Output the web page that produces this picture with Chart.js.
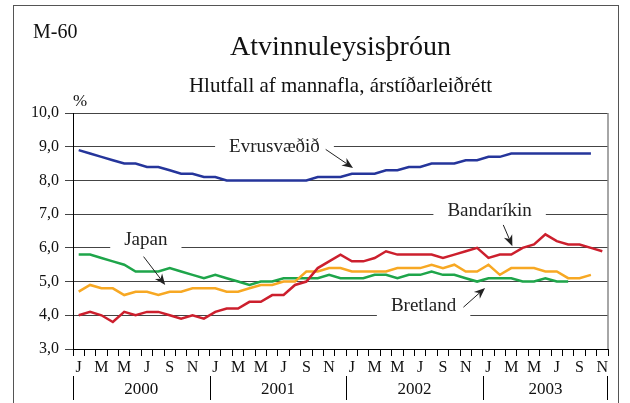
<!DOCTYPE html>
<html>
<head>
<meta charset="utf-8">
<script src="https://cdn.jsdelivr.net/npm/chart.js@4/dist/chart.umd.min.js"></script>
<style>
  html, body { margin: 0; padding: 0; background: #fff; }
  #wrap { width: 630px; height: 403px; }
</style>
</head>
<body>
<div id="wrap"><canvas id="chart" width="630" height="403"></canvas></div>
<script>
const FONT = "'Liberation Serif', 'Times New Roman', serif";

// Jan 2000 .. Nov 2003
const monthLabels = [
  'J','F','M','A','M','J','J','A','S','O','N','D',
  'J','F','M','A','M','J','J','A','S','O','N','D',
  'J','F','M','A','M','J','J','A','S','O','N','D',
  'J','F','M','A','M','J','J','A','S','O','N'
];
const years = ['2000', '2001', '2002', '2003'];

const euroArea = [8.9,8.8,8.7,8.6,8.5,8.5,8.4,8.4,8.3,8.2,8.2,8.1,
                  8.1,8.0,8.0,8.0,8.0,8.0,8.0,8.0,8.0,8.1,8.1,8.1,
                  8.2,8.2,8.2,8.3,8.3,8.4,8.4,8.5,8.5,8.5,8.6,8.6,
                  8.7,8.7,8.8,8.8,8.8,8.8,8.8,8.8,8.8,8.8];
const usa      = [4.0,4.1,4.0,3.8,4.1,4.0,4.1,4.1,4.0,3.9,4.0,3.9,
                  4.1,4.2,4.2,4.4,4.4,4.6,4.6,4.9,5.0,5.4,5.6,5.8,
                  5.6,5.6,5.7,5.9,5.8,5.8,5.8,5.8,5.7,5.8,5.9,6.0,
                  5.7,5.8,5.8,6.0,6.1,6.4,6.2,6.1,6.1,6.0,5.9];
const japan    = [4.7,4.9,4.8,4.8,4.6,4.7,4.7,4.6,4.7,4.7,4.8,4.8,
                  4.8,4.7,4.7,4.8,4.9,4.9,5.0,5.0,5.3,5.3,5.4,5.4,
                  5.3,5.3,5.3,5.3,5.4,5.4,5.4,5.5,5.4,5.5,5.3,5.3,
                  5.5,5.2,5.4,5.4,5.4,5.3,5.3,5.1,5.1,5.2];
const uk       = [5.8,5.8,5.7,5.6,5.5,5.3,5.3,5.3,5.4,5.3,5.2,5.1,
                  5.2,5.1,5.0,4.9,5.0,5.0,5.1,5.1,5.1,5.1,5.2,5.1,
                  5.1,5.1,5.2,5.2,5.1,5.2,5.2,5.3,5.2,5.2,5.1,5.0,
                  5.1,5.1,5.1,5.0,5.0,5.1,5.0,5.0];

// series labels sit on the grid, arrows point at their line (month index, value)
const notes = [
  { text: 'Evrusvæðið', at: [17.2, 9.0],  from: [21.7, 8.92], to: [24.1, 8.37] },
  { text: 'Bandaríkin', at: [36.1, 7.08], from: [37.3, 6.68], to: [38.1, 6.05] },
  { text: 'Japan',      at: [5.9, 6.22],  from: [5.7, 5.74],  to: [7.6, 4.9] },
  { text: 'Bretland',   at: [30.3, 4.27], from: [33.8, 4.24], to: [35.7, 4.81] }
];

function arrow(ctx, x0, y0, x1, y1) {
  const a = Math.atan2(y1 - y0, x1 - x0);
  const len = 11, half = 4.5;
  ctx.beginPath();
  ctx.moveTo(x0, y0);
  ctx.lineTo(x1 - Math.cos(a) * len * 0.7, y1 - Math.sin(a) * len * 0.7);
  ctx.stroke();
  ctx.save();
  ctx.translate(x1, y1);
  ctx.rotate(a);
  ctx.beginPath();
  ctx.moveTo(0, 0);
  ctx.lineTo(-len, -half);
  ctx.lineTo(-len * 0.7, 0);
  ctx.lineTo(-len, half);
  ctx.closePath();
  ctx.fill();
  ctx.restore();
}

const decor = {
  id: 'decor',
  beforeDraw(chart) {
    const ctx = chart.ctx;
    ctx.save();
    ctx.fillStyle = '#fff';
    ctx.fillRect(0, 0, chart.width, chart.height);
    ctx.restore();
  },
  afterDraw(chart) {
    const ctx = chart.ctx, xs = chart.scales.x, ys = chart.scales.y;
    const area = chart.chartArea;
    ctx.save();

    // outer frame
    ctx.strokeStyle = '#555';
    ctx.lineWidth = 1;
    ctx.strokeRect(13.5, 5.5, 605, 420);

    // right edge of the plot
    ctx.strokeStyle = '#888';
    ctx.lineWidth = 1.5;
    ctx.beginPath();
    ctx.moveTo(area.right, area.top);
    ctx.lineTo(area.right, area.bottom);
    ctx.stroke();

    // headings
    ctx.fillStyle = '#111';
    ctx.textBaseline = 'alphabetic';
    ctx.textAlign = 'left';
    ctx.font = '20px ' + FONT;
    ctx.fillText('M-60', 33, 38);
    ctx.font = '17px ' + FONT;
    ctx.fillText('%', 73, 106);
    const cx = (area.left + area.right) / 2;
    ctx.textAlign = 'center';
    ctx.font = '28px ' + FONT;
    ctx.fillText('Atvinnuleysisþróun', cx, 55);
    ctx.font = '21px ' + FONT;
    ctx.fillText('Hlutfall af mannafla, árstíðarleiðrétt', cx, 92);

    // year row under the month letters
    const w = xs.width / monthLabels.length;
    ctx.strokeStyle = '#000';
    ctx.lineWidth = 1;
    ctx.font = '17px ' + FONT;
    ctx.textBaseline = 'middle';
    years.forEach((yr, k) => {
      const first = k * 12;
      const last = Math.min(first + 11, monthLabels.length - 1);
      const x0 = xs.getPixelForValue(first) - w / 2;
      const x1 = xs.getPixelForValue(last) + w / 2;
      ctx.beginPath();
      ctx.moveTo(Math.round(x0) + 0.5, 376);
      ctx.lineTo(Math.round(x0) + 0.5, 400);
      if (k === years.length - 1) {
        ctx.moveTo(Math.round(x1) - 0.5, 376);
        ctx.lineTo(Math.round(x1) - 0.5, 400);
      }
      ctx.stroke();
      ctx.fillText(yr, (x0 + x1) / 2, 390);
    });

    // series names with arrows
    ctx.font = '19px ' + FONT;
    notes.forEach(n => {
      const tx = xs.getPixelForValue(n.at[0]);
      const ty = ys.getPixelForValue(n.at[1]);
      const tw = ctx.measureText(n.text).width;
      ctx.fillStyle = '#fff';
      ctx.fillRect(tx - tw / 2 - 14, ty - 12, tw + 28, 24);
      ctx.fillStyle = '#222';
      ctx.fillText(n.text, tx, ty);
      ctx.strokeStyle = '#222';
      ctx.lineWidth = 1;
      arrow(ctx,
        xs.getPixelForValue(n.from[0]), ys.getPixelForValue(n.from[1]),
        xs.getPixelForValue(n.to[0]), ys.getPixelForValue(n.to[1]));
    });
    ctx.restore();
  }
};

const line = (data, color) => ({
  data: data,
  borderColor: color,
  borderWidth: 2.5,
  pointRadius: 0,
  tension: 0,
  fill: false
});

new Chart(document.getElementById('chart'), {
  type: 'line',
  data: {
    labels: monthLabels,
    datasets: [
      line(euroArea, '#25359b'),
      line(usa, '#cc1f2d'),
      line(japan, '#f7a823'),
      line(uk, '#1ea54a')
    ]
  },
  options: {
    responsive: false,
    animation: false,
    events: [],
    layout: { padding: { top: 113, right: 22, bottom: 0, left: 0 } },
    plugins: { legend: { display: false }, tooltip: { enabled: false } },
    scales: {
      x: {
        offset: true,
        afterFit: s => { s.height = 54; },
        grid: { offset: true, drawOnChartArea: false, tickLength: 7, color: '#000' },
        border: { color: '#000', width: 1 },
        ticks: {
          autoSkip: false,
          maxRotation: 0,
          padding: 2,
          color: '#111',
          font: { family: FONT, size: 16 },
          callback: function (v, i) { return i % 2 ? '' : this.getLabelForValue(v); }
        }
      },
      y: {
        min: 3,
        max: 10,
        afterFit: s => { s.width = 73; },
        grid: { color: '#444', tickLength: 8 },
        border: { color: '#000', width: 1 },
        ticks: {
          stepSize: 1,
          padding: 6,
          color: '#111',
          font: { family: FONT, size: 16 },
          callback: v => v.toFixed(1).replace('.', ',')
        }
      }
    }
  },
  plugins: [decor]
});
</script>
</body>
</html>
